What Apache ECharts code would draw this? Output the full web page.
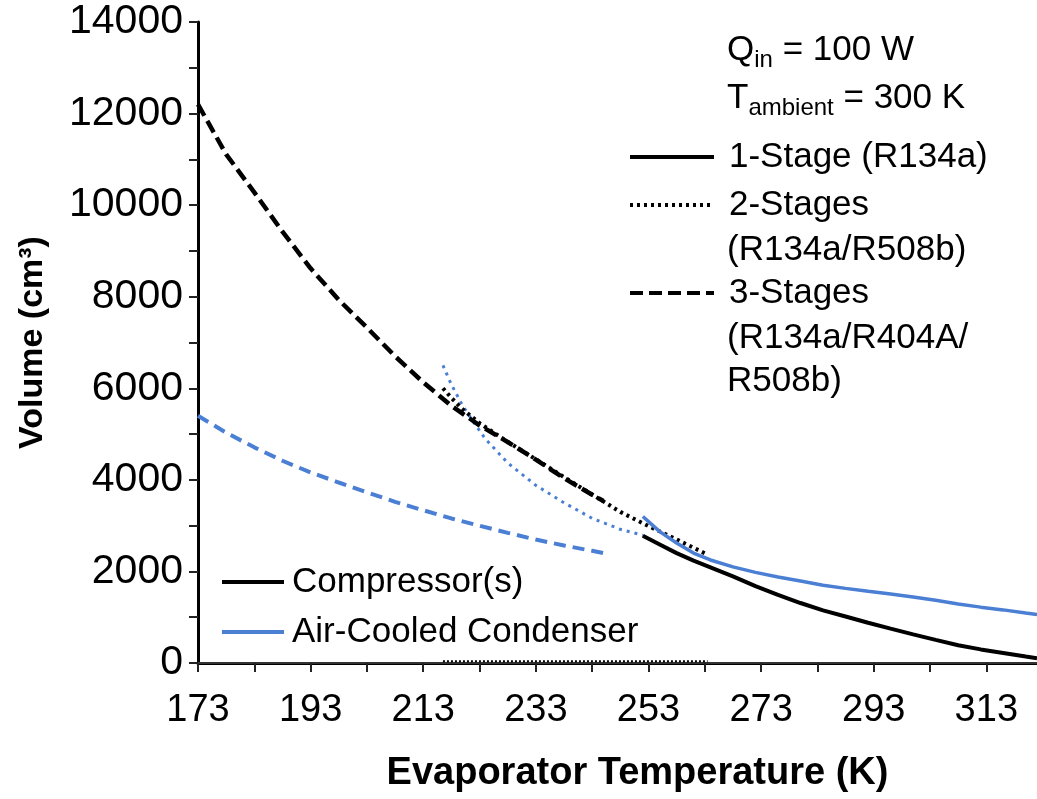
<!DOCTYPE html>
<html>
<head>
<meta charset="utf-8">
<title>Volume vs Evaporator Temperature</title>
<script src="https://cdn.jsdelivr.net/npm/echarts@6/dist/echarts.min.js"></script>
<style>
  html, body { margin: 0; padding: 0; background: #fff; }
  #chart { width: 1037px; height: 799px; }
</style>
</head>
<body>
<div id="chart"></div>
<script>
// Evaporator temperatures (K) and component volumes (cm^3)
const temp1Stage = [252, 255, 258, 261, 264, 268, 272, 276, 280, 284, 288, 292, 296, 300, 304, 308, 312, 316, 320, 322];
const comp1Stage = [2780, 2590, 2400, 2236, 2090, 1893, 1680, 1488, 1310, 1150, 1015, 879, 750, 624, 505, 388, 297, 220, 142, 105];
const cond1Stage = [3200, 2870, 2620, 2400, 2250, 2100, 1980, 1880, 1790, 1700, 1630, 1565, 1505, 1440, 1370, 1290, 1220, 1160, 1090, 1060];

const temp2StageComp = [216.5, 218, 220, 223, 228, 233, 238, 243, 248, 253, 258, 263.5];
const comp2Stage = [6000, 5790, 5540, 5240, 4830, 4450, 4060, 3680, 3300, 2990, 2700, 2365];
const temp2StageCond = [216.5, 218, 220, 222, 224, 228, 233, 238, 243, 248, 252];
const cond2Stage = [6500, 6080, 5620, 5250, 4900, 4370, 3880, 3500, 3160, 2920, 2790];
const temp2StageLow = [216.5, 263.5];
const low2Stage = [40, 40];

const temp3Stage = [173, 178, 183, 188, 193, 198, 203, 208, 213, 218, 223, 228, 233, 238, 243, 245];
const comp3Stage = [12200, 11110, 10280, 9420, 8620, 7930, 7325, 6700, 6130, 5617, 5190, 4827, 4441, 4036, 3676, 3540];
const cond3Stage = [5400, 5030, 4710, 4417, 4162, 3942, 3728, 3520, 3336, 3157, 2998, 2843, 2696, 2567, 2450, 2400];

// Axis ticks and labels
const xLabelValues = [173, 193, 213, 233, 253, 273, 293, 313];
const xTickValues = [173, 183, 193, 203, 213, 223, 233, 243, 253, 263, 273, 283, 293, 303, 313];

const BLACK = '#000000';
const BLUE = '#4a7fd4';
const FONT = "'Liberation Sans', Arial, sans-serif";

const pairs = (xs, ys) => xs.map((x, i) => [x, ys[i]]);

const DOT_BLACK = [3, 4];
const DOT_BLUE = [3, 5];
const DASH_BLACK = [13, 6];
const DASH_BLUE = [12, 7];

function lineSeries(name, xs, ys, color, width, type, z) {
  return {
    name: name,
    type: 'line',
    data: pairs(xs, ys),
    showSymbol: false,
    symbol: 'none',
    silent: true,
    z: z || 2,
    lineStyle: { color: color, width: width, type: type, cap: 'butt' }
  };
}

function legendOnly(name, color, type) {
  return {
    name: name, type: 'line', data: [], symbol: 'none', showSymbol: false,
    itemStyle: { color: color, opacity: 0 },
    lineStyle: { color: color, width: 4, type: type }
  };
}

function legendItem(name, left, top, width, type, color, gap) {
  return {
    data: [name],
    left: left, top: top, padding: 0,
    orient: 'vertical',
    selectedMode: false,
    itemWidth: width, itemHeight: 14,
    itemStyle: { opacity: 0, borderWidth: 0 },
    lineStyle: { width: 4, type: type, color: color, cap: 'butt' },
    textStyle: { fontFamily: FONT, fontSize: 35, lineHeight: 42, color: '#000', padding: [0, 0, 0, gap] }
  };
}

const chart = echarts.init(document.getElementById('chart'), null, { renderer: 'canvas' });

const option = {
  backgroundColor: '#ffffff',
  animation: false,
  grid: { left: 198, right: 0, top: 22, bottom: 136, containLabel: false, outerBoundsMode: 'none' },
  xAxis: [{
    type: 'value',
    min: 173, max: 322,
    axisLine: { show: true, onZero: false, lineStyle: { color: BLACK, width: 3 } },
    axisTick: { show: true, inside: false, length: 9, customValues: xTickValues, lineStyle: { color: '#222', width: 2 } },
    axisLabel: { customValues: xLabelValues, margin: 29, fontFamily: FONT, fontSize: 38, color: '#000' },
    splitLine: { show: false },
    name: 'Evaporator Temperature (K)',
    nameLocation: 'middle',
    nameGap: 92,
    nameTextStyle: { fontFamily: FONT, fontWeight: 'bold', fontSize: 38, color: '#000', padding: [0, 0, 0, 40] }
  }, {
    type: 'value', position: 'top', min: 173, max: 322,
    axisLine: { show: true, lineStyle: { color: '#333', width: 2 } },
    axisTick: { show: false }, axisLabel: { show: false }, splitLine: { show: false }
  }],
  yAxis: {
    type: 'value',
    min: 0, max: 14000, interval: 2000,
    axisLine: { show: true, lineStyle: { color: BLACK, width: 3 } },
    axisTick: { show: true, inside: false, length: 9, lineStyle: { color: '#222', width: 2 } },
    minorTick: { show: true, splitNumber: 2, length: 9, lineStyle: { color: '#222', width: 2 } },
    axisLabel: { margin: 15, fontFamily: FONT, fontSize: 41, color: '#000', formatter: (v) => String(v) },
    splitLine: { show: false },
    name: 'Volume (cm\u00b3)',
    nameLocation: 'middle',
    nameGap: 148,
    nameRotate: 90,
    nameTextStyle: { fontFamily: FONT, fontWeight: 'bold', fontSize: 34, color: '#000' }
  },
  legend: [
    legendItem('1-Stage (R134a)', 628, 136, 84, 'solid', BLACK, 10),
    legendItem('2-Stages', 628, 184, 84, DOT_BLACK, BLACK, 10),
    legendItem('3-Stages', 628, 272, 84, DASH_BLACK, BLACK, 10),
    legendItem('Compressor(s)', 220, 561, 62, 'solid', BLACK, 3),
    legendItem('Air-Cooled Condenser', 220, 611, 62, 'solid', BLUE, 3)
  ],
  graphic: [
    {
      type: 'text', left: 727, top: 33, silent: true,
      style: {
        text: '{m|Q}{s|in}{m| = 100 W}',
        rich: {
          m: { fontFamily: FONT, fontSize: 35, lineHeight: 44, verticalAlign: 'middle', fill: '#000' },
          s: { fontFamily: FONT, fontSize: 24, lineHeight: 10, verticalAlign: 'bottom', fill: '#000' }
        }
      }
    },
    {
      type: 'text', left: 727, top: 81, silent: true,
      style: {
        text: '{m|T}{s|ambient}{m| = 300 K}',
        rich: {
          m: { fontFamily: FONT, fontSize: 35, lineHeight: 44, verticalAlign: 'middle', fill: '#000' },
          s: { fontFamily: FONT, fontSize: 24, lineHeight: 10, verticalAlign: 'bottom', fill: '#000' }
        }
      }
    },
    {
      type: 'text', left: 727, top: 229, silent: true,
      style: { text: '(R134a/R508b)', fontFamily: FONT, fontSize: 35, lineHeight: 42, fill: '#000' }
    },
    {
      type: 'text', left: 727, top: 317, silent: true,
      style: { text: '(R134a/R404A/\nR508b)', fontFamily: FONT, fontSize: 35, lineHeight: 43, fill: '#000' }
    }
  ],
  series: [
    lineSeries('3-Stage condenser', temp3Stage, cond3Stage, BLUE, 4, DASH_BLUE, 2),
    lineSeries('2-Stage condenser', temp2StageCond, cond2Stage, BLUE, 3, DOT_BLUE, 2),
    lineSeries('3-Stage compressor', temp3Stage, comp3Stage, BLACK, 4.5, DASH_BLACK, 3),
    lineSeries('2-Stage compressor', temp2StageComp, comp2Stage, BLACK, 4, DOT_BLACK, 3),
    lineSeries('2-Stage low', temp2StageLow, low2Stage, BLACK, 2, [2, 2], 3),
    lineSeries('1-Stage compressor', temp1Stage, comp1Stage, BLACK, 4, 'solid', 3),
    lineSeries('1-Stage condenser', temp1Stage, cond1Stage, BLUE, 3.5, 'solid', 4),
    legendOnly('1-Stage (R134a)', BLACK, 'solid'),
    legendOnly('2-Stages', BLACK, DOT_BLACK),
    legendOnly('3-Stages', BLACK, DASH_BLACK),
    legendOnly('Compressor(s)', BLACK, 'solid'),
    legendOnly('Air-Cooled Condenser', BLUE, 'solid')
  ]
};

chart.setOption(option);
</script>
</body>
</html>
